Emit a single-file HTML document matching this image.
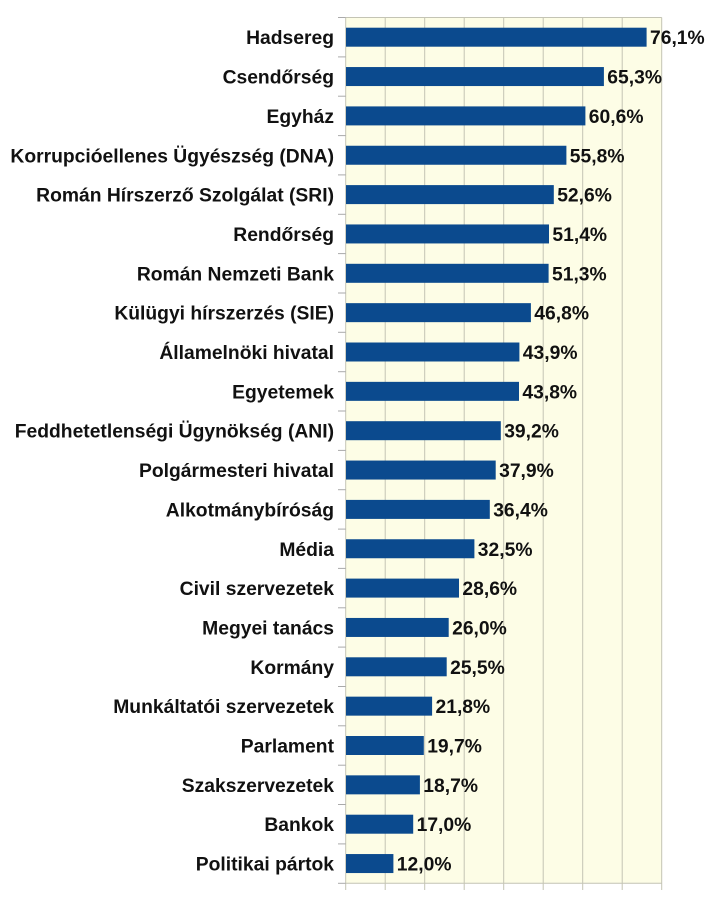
<!DOCTYPE html>
<html><head><meta charset="utf-8"><style>
html,body{margin:0;padding:0;background:#fff;}
svg{display:block;}
text{font-family:"Liberation Sans",Arial,sans-serif;font-weight:bold;font-size:19.3px;fill:#111;}
.l{text-anchor:end;}
</style></head><body>
<svg width="710" height="901" viewBox="0 0 710 901" xmlns="http://www.w3.org/2000/svg">
<rect x="345.7" y="17.5" width="316" height="865.8" fill="#fdfde6"/>
<g stroke="#c4c4b4" stroke-width="1">
<line x1="385.2" y1="17.5" x2="385.2" y2="890"/>
<line x1="424.7" y1="17.5" x2="424.7" y2="890"/>
<line x1="464.2" y1="17.5" x2="464.2" y2="890"/>
<line x1="503.7" y1="17.5" x2="503.7" y2="890"/>
<line x1="543.2" y1="17.5" x2="543.2" y2="890"/>
<line x1="582.7" y1="17.5" x2="582.7" y2="890"/>
<line x1="622.2" y1="17.5" x2="622.2" y2="890"/>
<line x1="661.7" y1="17.5" x2="661.7" y2="890"/>
<line x1="345.7" y1="17.5" x2="661.7" y2="17.5"/>
<line x1="345.7" y1="883.3" x2="661.7" y2="883.3"/>
<line x1="345.7" y1="17.5" x2="345.7" y2="890"/>
</g>
<g stroke="#aaa" stroke-width="1">
<line x1="338" y1="17.5" x2="345.7" y2="17.5"/><line x1="338" y1="56.9" x2="345.7" y2="56.9"/><line x1="338" y1="96.2" x2="345.7" y2="96.2"/><line x1="338" y1="135.6" x2="345.7" y2="135.6"/><line x1="338" y1="174.9" x2="345.7" y2="174.9"/><line x1="338" y1="214.3" x2="345.7" y2="214.3"/><line x1="338" y1="253.6" x2="345.7" y2="253.6"/><line x1="338" y1="293" x2="345.7" y2="293"/><line x1="338" y1="332.3" x2="345.7" y2="332.3"/><line x1="338" y1="371.7" x2="345.7" y2="371.7"/><line x1="338" y1="411" x2="345.7" y2="411"/><line x1="338" y1="450.4" x2="345.7" y2="450.4"/><line x1="338" y1="489.7" x2="345.7" y2="489.7"/><line x1="338" y1="529.1" x2="345.7" y2="529.1"/><line x1="338" y1="568.4" x2="345.7" y2="568.4"/><line x1="338" y1="607.8" x2="345.7" y2="607.8"/><line x1="338" y1="647.1" x2="345.7" y2="647.1"/><line x1="338" y1="686.5" x2="345.7" y2="686.5"/><line x1="338" y1="725.8" x2="345.7" y2="725.8"/><line x1="338" y1="765.2" x2="345.7" y2="765.2"/><line x1="338" y1="804.5" x2="345.7" y2="804.5"/><line x1="338" y1="843.9" x2="345.7" y2="843.9"/><line x1="338" y1="883.3" x2="345.7" y2="883.3"/>
</g>
<g fill="#0b4a8e">
<g transform="translate(0,37.2)"><rect x="346" y="-9.5" width="300.6" height="19"/><text class="l" x="334" y="7" fill="#111">Hadsereg</text><text x="650" y="7" fill="#111">76,1%</text></g>
<g transform="translate(0,76.55)"><rect x="346" y="-9.5" width="257.9" height="19"/><text class="l" x="334" y="7" fill="#111">Csendőrség</text><text x="607.3" y="7" fill="#111">65,3%</text></g>
<g transform="translate(0,115.9)"><rect x="346" y="-9.5" width="239.4" height="19"/><text class="l" x="334" y="7" fill="#111">Egyház</text><text x="588.8" y="7" fill="#111">60,6%</text></g>
<g transform="translate(0,155.25)"><rect x="346" y="-9.5" width="220.4" height="19"/><text class="l" x="334" y="7" fill="#111">Korrupcióellenes Ügyészség (DNA)</text><text x="569.8" y="7" fill="#111">55,8%</text></g>
<g transform="translate(0,194.6)"><rect x="346" y="-9.5" width="207.8" height="19"/><text class="l" x="334" y="7" fill="#111">Román Hírszerző Szolgálat (SRI)</text><text x="557.2" y="7" fill="#111">52,6%</text></g>
<g transform="translate(0,233.95)"><rect x="346" y="-9.5" width="203" height="19"/><text class="l" x="334" y="7" fill="#111">Rendőrség</text><text x="552.4" y="7" fill="#111">51,4%</text></g>
<g transform="translate(0,273.3)"><rect x="346" y="-9.5" width="202.6" height="19"/><text class="l" x="334" y="7" fill="#111">Román Nemzeti Bank</text><text x="552" y="7" fill="#111">51,3%</text></g>
<g transform="translate(0,312.65)"><rect x="346" y="-9.5" width="184.9" height="19"/><text class="l" x="334" y="7" fill="#111">Külügyi hírszerzés (SIE)</text><text x="534.3" y="7" fill="#111">46,8%</text></g>
<g transform="translate(0,352)"><rect x="346" y="-9.5" width="173.4" height="19"/><text class="l" x="334" y="7" fill="#111">Államelnöki hivatal</text><text x="522.8" y="7" fill="#111">43,9%</text></g>
<g transform="translate(0,391.35)"><rect x="346" y="-9.5" width="173" height="19"/><text class="l" x="334" y="7" fill="#111">Egyetemek</text><text x="522.4" y="7" fill="#111">43,8%</text></g>
<g transform="translate(0,430.7)"><rect x="346" y="-9.5" width="154.8" height="19"/><text class="l" x="334" y="7" fill="#111">Feddhetetlenségi Ügynökség (ANI)</text><text x="504.2" y="7" fill="#111">39,2%</text></g>
<g transform="translate(0,470.05)"><rect x="346" y="-9.5" width="149.7" height="19"/><text class="l" x="334" y="7" fill="#111">Polgármesteri hivatal</text><text x="499.1" y="7" fill="#111">37,9%</text></g>
<g transform="translate(0,509.4)"><rect x="346" y="-9.5" width="143.8" height="19"/><text class="l" x="334" y="7" fill="#111">Alkotmánybíróság</text><text x="493.2" y="7" fill="#111">36,4%</text></g>
<g transform="translate(0,548.75)"><rect x="346" y="-9.5" width="128.4" height="19"/><text class="l" x="334" y="7" fill="#111">Média</text><text x="477.8" y="7" fill="#111">32,5%</text></g>
<g transform="translate(0,588.1)"><rect x="346" y="-9.5" width="113" height="19"/><text class="l" x="334" y="7" fill="#111">Civil szervezetek</text><text x="462.4" y="7" fill="#111">28,6%</text></g>
<g transform="translate(0,627.45)"><rect x="346" y="-9.5" width="102.7" height="19"/><text class="l" x="334" y="7" fill="#111">Megyei tanács</text><text x="452.1" y="7" fill="#111">26,0%</text></g>
<g transform="translate(0,666.8)"><rect x="346" y="-9.5" width="100.7" height="19"/><text class="l" x="334" y="7" fill="#111">Kormány</text><text x="450.1" y="7" fill="#111">25,5%</text></g>
<g transform="translate(0,706.15)"><rect x="346" y="-9.5" width="86.1" height="19"/><text class="l" x="334" y="7" fill="#111">Munkáltatói szervezetek</text><text x="435.5" y="7" fill="#111">21,8%</text></g>
<g transform="translate(0,745.5)"><rect x="346" y="-9.5" width="77.8" height="19"/><text class="l" x="334" y="7" fill="#111">Parlament</text><text x="427.2" y="7" fill="#111">19,7%</text></g>
<g transform="translate(0,784.85)"><rect x="346" y="-9.5" width="73.9" height="19"/><text class="l" x="334" y="7" fill="#111">Szakszervezetek</text><text x="423.3" y="7" fill="#111">18,7%</text></g>
<g transform="translate(0,824.2)"><rect x="346" y="-9.5" width="67.2" height="19"/><text class="l" x="334" y="7" fill="#111">Bankok</text><text x="416.6" y="7" fill="#111">17,0%</text></g>
<g transform="translate(0,863.55)"><rect x="346" y="-9.5" width="47.4" height="19"/><text class="l" x="334" y="7" fill="#111">Politikai pártok</text><text x="396.8" y="7" fill="#111">12,0%</text></g>
</g>
</svg>
</body></html>
